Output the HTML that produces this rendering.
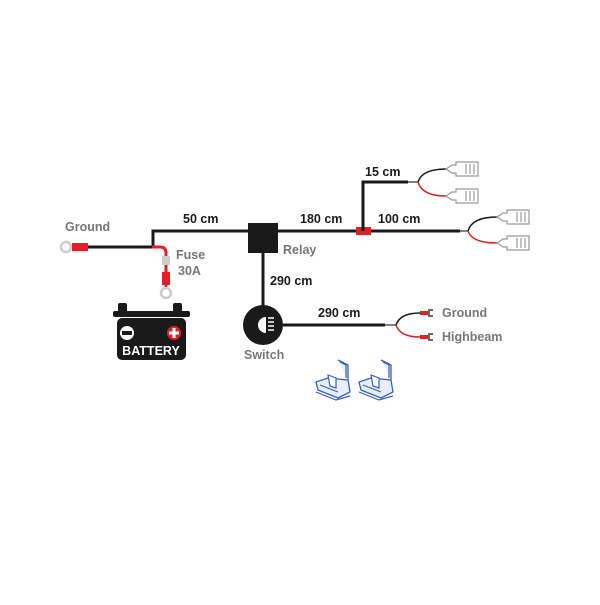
<!DOCTYPE html>
<html><head><style>
body{margin:0;background:#fff}
svg text{font-family:"Liberation Sans",sans-serif;font-weight:bold}
</style></head><body>
<svg width="600" height="600" viewBox="0 0 600 600" xmlns="http://www.w3.org/2000/svg">
<defs>
<g id="conn">
<path d="M0,0 L6,-4 L10,-4 L10,-7 L32,-7 L32,7 L10,7 L10,4 L6,4 Z" fill="#fff" stroke="#999" stroke-width="1.2"/>
<path d="M20,-5V5M24,-5V5M28,-5V5" stroke="#999" stroke-width="1.2"/>
</g>
<g id="clip">
<path d="M22,0 L32,5 L32,20 L12,18 L0,22 L2,30 L22,38 L34,32 L32,20" fill="#e8eefa" stroke="#3a5fb8" stroke-width="1.3"/>
<path d="M4,25 L22,32 M0,32 L20,40 L34,36 M24,2 L30,5 L30,18" fill="none" stroke="#3a5fb8" stroke-width="1.2"/>
<path d="M12,15 L20,18 L20,28 L14,26 Z" fill="#fff" stroke="#3a5fb8" stroke-width="1.2"/>
</g>
</defs>
<circle cx="66" cy="247" r="5" fill="#fff" stroke="#ccc" stroke-width="2.5"/>
<rect x="72" y="243" width="16" height="8" fill="#e01f26"/>
<path d="M88,247 H153 V231 H250" stroke="#1a1a1a" stroke-width="3" fill="none"/>
<path d="M152,247 H160 Q166,247 166,253 V290" stroke="#e01f26" stroke-width="3" fill="none"/>
<rect x="162" y="256" width="8" height="9" fill="#ccc"/>
<rect x="162" y="272" width="8" height="13" fill="#e01f26"/>
<circle cx="166" cy="293" r="5" fill="#fff" stroke="#ccc" stroke-width="2.5"/>
<rect x="118" y="303" width="9" height="9" rx="2" fill="#1a1a1a"/>
<rect x="173" y="303" width="9" height="9" rx="2" fill="#1a1a1a"/>
<rect x="113" y="311" width="77" height="6" rx="2" fill="#1a1a1a"/>
<rect x="117" y="318" width="69" height="42" rx="5" fill="#1a1a1a"/>
<circle cx="127" cy="333" r="7" fill="#fff"/><rect x="122" y="331" width="10" height="4" fill="#1a1a1a"/>
<circle cx="174" cy="333" r="7" fill="#e01f26"/><path d="M169,333H179M174,328V338" stroke="#fff" stroke-width="3"/>
<text x="151" y="355" font-size="12.5" fill="#fff" text-anchor="middle">BATTERY</text>
<rect x="248" y="223" width="30" height="30" fill="#1a1a1a"/>
<path d="M278,231 H460" stroke="#1a1a1a" stroke-width="3"/>
<path d="M460,231 H468" stroke="#555" stroke-width="1.5"/>
<rect x="356" y="227" width="15" height="8" fill="#e01f26"/>
<path d="M363,231 V182 H408" stroke="#1a1a1a" stroke-width="3" fill="none"/>
<path d="M408,182 H418" stroke="#555" stroke-width="1.5"/>
<path d="M418,182 Q422,169 446,169" stroke="#1a1a1a" stroke-width="1.5" fill="none"/>
<path d="M418,182 Q422,196 446,196" stroke="#e01f26" stroke-width="1.5" fill="none"/>
<use href="#conn" x="446" y="169"/><use href="#conn" x="446" y="196"/>
<path d="M468,231 Q472,217 497,217" stroke="#1a1a1a" stroke-width="1.5" fill="none"/>
<path d="M468,231 Q472,243 497,243" stroke="#e01f26" stroke-width="1.5" fill="none"/>
<use href="#conn" x="497" y="217"/><use href="#conn" x="497" y="243"/>
<path d="M263,253 V306" stroke="#1a1a1a" stroke-width="3"/>
<circle cx="263" cy="325" r="20" fill="#1a1a1a"/>
<path d="M266,317 A8,8 0 0 0 266,333 Z" fill="#fff"/>
<path d="M268,318H274M268,322H274M268,326H274M268,330H274" stroke="#fff" stroke-width="1.5"/>
<path d="M283,325 H385" stroke="#1a1a1a" stroke-width="3"/>
<path d="M385,325 H396" stroke="#555" stroke-width="1.5"/>
<path d="M396,325 Q400,313 420,313" stroke="#1a1a1a" stroke-width="1.5" fill="none"/>
<path d="M396,325 Q400,337 420,337" stroke="#e01f26" stroke-width="1.5" fill="none"/>
<rect x="420" y="311" width="8" height="4" fill="#e01f26"/>
<rect x="420" y="335" width="8" height="4" fill="#e01f26"/>
<path d="M433,310 H429 V316 H433" stroke="#555" stroke-width="1.8" fill="none"/>
<path d="M433,334 H429 V340 H433" stroke="#555" stroke-width="1.8" fill="none"/>
<use href="#clip" x="316" y="360"/>
<use href="#clip" x="359" y="360"/>
<g font-size="12.5">
<text x="65" y="231" fill="#777">Ground</text>
<text x="183" y="223" fill="#1a1a1a">50 cm</text>
<text x="300" y="223" fill="#1a1a1a">180 cm</text>
<text x="378" y="223" fill="#1a1a1a">100 cm</text>
<text x="365" y="176" fill="#1a1a1a">15 cm</text>
<text x="283" y="254" fill="#777">Relay</text>
<text x="176" y="259" fill="#777">Fuse</text>
<text x="178" y="275" fill="#777">30A</text>
<text x="270" y="285" fill="#1a1a1a">290 cm</text>
<text x="318" y="317" fill="#1a1a1a">290 cm</text>
<text x="442" y="317" fill="#777">Ground</text>
<text x="442" y="341" fill="#777">Highbeam</text>
<text x="244" y="359" fill="#777">Switch</text>
</g>
</svg>
</body></html>
